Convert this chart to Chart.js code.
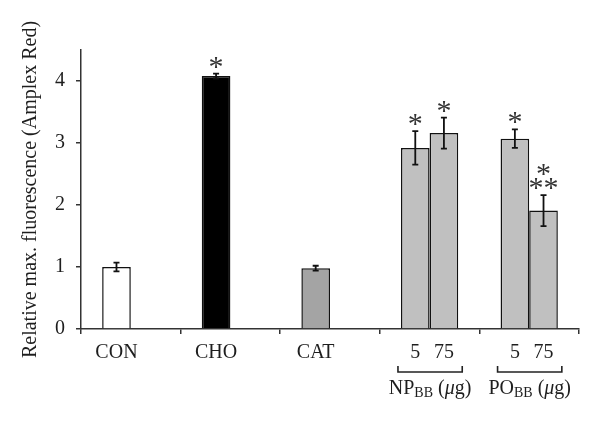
<!DOCTYPE html>
<html>
<head>
<meta charset="utf-8">
<script src="https://cdn.jsdelivr.net/npm/chart.js@4"></script>
<style>
  body { margin: 0; background: #fff; }
  #wrap { width: 600px; height: 424px; }
</style>
</head>
<body>
<div id="wrap"><canvas id="myChart"></canvas></div>
<script>
// data
const categories = ['CON', 'CHO', 'CAT', 'NP', 'PO'];
const firstBar = [1.00, 4.08, 0.98, 2.92, 3.07];
const secondBar = [null, null, null, 3.16, 1.91];
const firstErr = [0.07, 0.04, 0.04, 0.27, 0.15];
const secondErr = [null, null, null, 0.25, 0.25];
const firstStars = [[], ['*'], [], ['*'], ['*']];
const secondStars = [[], [], [], ['*'], ['**', '*']];
const firstLabels = ['CON', 'CHO', 'CAT', '5', '5'];
const secondLabels = ['', '', '', '75', '75'];
const groupNames = [null, null, null, 'NP', 'PO'];
const groupSub = 'BB';

const firstColors = ['#ffffff', '#000000', '#a4a4a4', '#c0c0c0', '#c0c0c0'];
const secondColors = '#c0c0c0';
const serif = '"Liberation Serif", "DejaVu Serif", serif';
const ink = '#1e1e1e';

const extras = {
  id: 'extras',
  afterDatasetsDraw(chart) {
    const ctx = chart.ctx;
    const y = chart.scales.y;
    const sets = [[firstErr, firstStars], [secondErr, secondStars]];
    sets.forEach(([errs, stars], d) => {
      const meta = chart.getDatasetMeta(d);
      const vals = chart.data.datasets[d].data;
      meta.data.forEach((bar, i) => {
        if (vals[i] == null) return;
        const x = bar.x;
        const hi = y.getPixelForValue(vals[i] + errs[i]);
        const lo = y.getPixelForValue(vals[i] - errs[i]);
        ctx.save();
        ctx.strokeStyle = '#111';
        ctx.lineWidth = 1.8;
        ctx.beginPath();
        ctx.moveTo(x, hi); ctx.lineTo(x, lo);
        ctx.moveTo(x - 3, hi); ctx.lineTo(x + 3, hi);
        ctx.moveTo(x - 3, lo); ctx.lineTo(x + 3, lo);
        ctx.stroke();
        ctx.fillStyle = '#333';
        ctx.font = '30px ' + serif;
        ctx.textAlign = 'center';
        ctx.textBaseline = 'alphabetic';
        // stack asterisks upward from the error cap
        stars[i].forEach((s, k) => {
          ctx.fillText(s, x, hi - 13 - k * 14 + 15);
        });
        ctx.restore();
      });
    });
  },
  afterDraw(chart) {
    const ctx = chart.ctx;
    const m0 = chart.getDatasetMeta(0), m1 = chart.getDatasetMeta(1);
    ctx.save();
    ctx.fillStyle = ink;
    ctx.strokeStyle = '#222';
    ctx.textAlign = 'center';
    ctx.textBaseline = 'middle';
    categories.forEach((c, i) => {
      const b0 = m0.data[i], b1 = m1.data[i];
      ctx.font = '20px ' + serif;
      ctx.fillText(firstLabels[i], b0.x, 353);
      if (secondLabels[i]) ctx.fillText(secondLabels[i], b1.x, 353);
      if (groupNames[i]) {
        const l = b0.x - b0.width / 2 - 3, r = b1.x + b1.width / 2 + 4;
        ctx.lineWidth = 1.6;
        ctx.beginPath();
        ctx.moveTo(l, 366); ctx.lineTo(l, 372); ctx.lineTo(r, 372); ctx.lineTo(r, 366);
        ctx.stroke();
        // label with subscript and italic mu
        const parts = [
          [groupNames[i], '20px ' + serif, 0],
          [groupSub, '14px ' + serif, 3],
          [' (', '20px ' + serif, 0],
          ['\u03bc', 'italic 20px ' + serif, 0],
          ['g)', '20px ' + serif, 0]
        ];
        let w = 0;
        parts.forEach(p => { ctx.font = p[1]; w += ctx.measureText(p[0]).width; });
        let x = (l + r) / 2 - w / 2;
        ctx.textAlign = 'left';
        ctx.textBaseline = 'alphabetic';
        parts.forEach(p => {
          ctx.font = p[1];
          ctx.fillText(p[0], x, 394 + p[2]);
          x += ctx.measureText(p[0]).width;
        });
        ctx.textAlign = 'center';
        ctx.textBaseline = 'middle';
      }
    });
    ctx.restore();
  }
};

new Chart(document.getElementById('myChart'), {
  type: 'bar',
  data: {
    labels: categories,
    datasets: [
      { data: firstBar, backgroundColor: firstColors, borderColor: '#111', borderWidth: 1.5 },
      { data: secondBar, backgroundColor: secondColors, borderColor: '#111', borderWidth: 1.5 }
    ]
  },
  options: {
    responsive: true,
    maintainAspectRatio: false,
    animation: false,
    layout: { padding: { top: 50, right: 21, left: 0, bottom: 0 } },
    datasets: { bar: { categoryPercentage: 0.575, barPercentage: 1 } },
    plugins: { legend: { display: false }, tooltip: { enabled: false } },
    scales: {
      x: {
        grid: { drawOnChartArea: false, tickLength: 5, color: '#333', lineWidth: 1.5 },
        border: { color: '#333', width: 1.5 },
        ticks: { display: false },
        afterFit(s) { s.height = 95; }
      },
      y: {
        min: 0, max: 4.5,
        grid: { drawOnChartArea: false, tickLength: 5, color: '#333', lineWidth: 1.5 },
        border: { color: '#333', width: 1.5 },
        ticks: { stepSize: 1, includeBounds: false, padding: 11, color: ink, font: { family: serif, size: 20 } },
        title: { display: true, text: 'Relative max. fluorescence (Amplex Red)', color: ink, font: { family: serif, size: 20 }, padding: { top: 19, bottom: 0 } },
        afterFit(s) { s.width = 81; }
      }
    }
  },
  plugins: [extras]
});
</script>
</body>
</html>
